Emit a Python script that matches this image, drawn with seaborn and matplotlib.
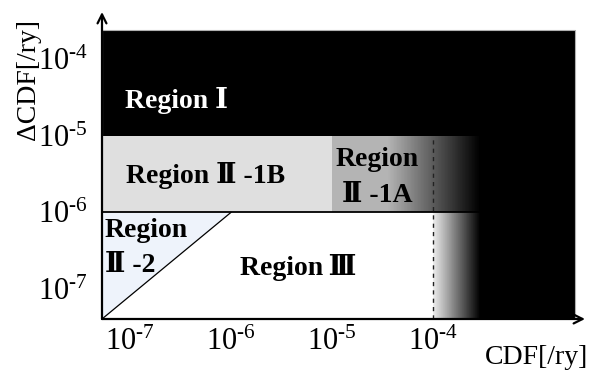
import numpy as np
import matplotlib
matplotlib.use("Agg")
import matplotlib.pyplot as plt
import seaborn as sns
import pandas as pd

# Axis ticks (log scale) and their labels
cdf_ticks = [1e-7, 1e-6, 1e-5, 1e-4]
cdf_tick_labels = [r"$10^{\text{-}7}$", r"$10^{\text{-}6}$", r"$10^{\text{-}5}$", r"$10^{\text{-}4}$"]
dcdf_ticks = [1e-7, 1e-6, 1e-5, 1e-4]
dcdf_tick_labels = [r"$10^{\text{-}7}$", r"$10^{\text{-}6}$", r"$10^{\text{-}5}$", r"$10^{\text{-}4}$"]

# Axis extents
cdf_range = [10 ** -7.28, 10 ** -2.49]
dcdf_range = [10 ** -7.39, 10 ** -3.39]

# Region boundaries
region1_top = 10 ** -3.62
region1_right = 10 ** -2.59
band_lower = 1e-6      # ΔCDF boundary between Region III/II-2 and Region II-1
band_upper = 1e-5      # ΔCDF boundary between Region II-1 and Region I
region2_1a_left = 1e-5  # CDF where Region II-1A begins
cdf_guideline = 1e-4    # dashed CDF reference line
fade_start_upper = 10 ** -4.45
fade_end = 10 ** -3.53
region2_2_corner = 1e-6  # diagonal of Region II-2 ends at (1e-6, 1e-6)

# Region labels: (text, CDF, ΔCDF, color, horizontal alignment)
region_labels = [
    ("Region Ⅰ", 10 ** -6.545, 10 ** -4.636, "white", "center"),
    ("Region Ⅱ -1B", 10 ** -6.25, 10 ** -5.623, "black", "center"),
    ("Region", 10 ** -4.554, 10 ** -5.403, "black", "center"),
    ("Ⅱ -1A", 10 ** -4.554, 10 ** -5.87, "black", "center"),
    ("Region", 10 ** -7.25, 10 ** -6.325, "black", "left"),
    ("Ⅱ -2", 10 ** -7.25, 10 ** -6.779, "black", "left"),
    ("Region\u2009Ⅲ", 10 ** -5.337, 10 ** -6.818, "black", "center"),
]

sns.set_theme(style="white")
plt.rcParams["font.family"] = ["Liberation Serif", "DejaVu Serif", "Noto Sans CJK JP"]
plt.rcParams["mathtext.fontset"] = "custom"
plt.rcParams["mathtext.rm"] = "Liberation Serif"
plt.rcParams["mathtext.it"] = "Liberation Serif:italic"
plt.rcParams["mathtext.bf"] = "Liberation Serif:bold"

fig = plt.figure(figsize=(5.96, 3.74), dpi=100)
ax = fig.add_axes([102 / 596, 55 / 374, 483 / 596, 307 / 374])
ax.set_xscale("log")
ax.set_yscale("log")
ax.set_xlim(cdf_range)
ax.set_ylim(dcdf_range)

x0, y0 = cdf_range[0], dcdf_range[0]

# Region I (black background)
ax.fill_between([x0, region1_right], y0, region1_top, color="black",
                edgecolor="#b0b0b0", linewidth=0.8, zorder=1)

# Region II-1B (light grey band)
ax.fill_between([x0, region2_1a_left], band_lower, band_upper, color="#dfdfdf",
                linewidth=0, zorder=2)
# Region II-1A (mid grey band)
ax.fill_between([region2_1a_left, fade_start_upper], band_lower, band_upper,
                color="#b4b4b4", linewidth=0, zorder=2)
# Region III (white)
ax.fill_between([x0, cdf_guideline], y0, band_lower, color="white",
                linewidth=0, zorder=2)

# Fades towards Region I
n = 120
xe_up = np.logspace(np.log10(fade_start_upper), np.log10(fade_end), n + 1)
ax.pcolormesh(xe_up, [band_lower, band_upper],
              np.linspace(0.705, 0.0, n)[None, :], cmap="gray", vmin=0, vmax=1,
              shading="flat", zorder=2, rasterized=True)
xe_lo = np.logspace(np.log10(cdf_guideline), np.log10(fade_end), n + 1)
ax.pcolormesh(xe_lo, [y0, band_lower],
              np.linspace(0.93, 0.0, n)[None, :], cmap="gray", vmin=0, vmax=1,
              shading="flat", zorder=2, rasterized=True)

# Region II-2 (triangle)
ax.fill([x0, x0, region2_2_corner], [y0, band_lower, band_lower],
        color="#eef3fb", linewidth=0, zorder=3)
diag = pd.DataFrame({"cdf": [x0, region2_2_corner], "dcdf": [y0, band_lower]})
sns.lineplot(data=diag, x="cdf", y="dcdf", color="black", linewidth=0.9,
             ax=ax, zorder=4)

# Boundary at ΔCDF = 1e-6
bound = pd.DataFrame({"cdf": [x0, fade_end], "dcdf": [band_lower, band_lower]})
sns.lineplot(data=bound, x="cdf", y="dcdf", color="black", linewidth=1.3,
             ax=ax, zorder=4)

# Dashed CDF guideline
ax.plot([cdf_guideline, cdf_guideline], [y0, band_upper], color="#222222",
        linewidth=1.0, linestyle=(0, (3, 3)), zorder=4)

for text, x, y, col, ha in region_labels:
    ax.text(x, y, text, color=col, ha=ha, va="baseline", fontsize=20,
            fontweight="bold", zorder=5)

# Axes with arrows
for s in ax.spines.values():
    s.set_visible(False)
ax.annotate("", xy=(1, 0), xytext=(0, 0), xycoords="axes fraction",
            arrowprops=dict(arrowstyle="->", lw=1.6, color="black",
                            shrinkA=0, shrinkB=0, mutation_scale=16), zorder=6)
ax.annotate("", xy=(0, 1), xytext=(0, 0), xycoords="axes fraction",
            arrowprops=dict(arrowstyle="->", lw=1.6, color="black",
                            shrinkA=0, shrinkB=0, mutation_scale=16), zorder=6)

ax.minorticks_off()
ax.set_xticks(cdf_ticks)
ax.set_xticklabels(cdf_tick_labels)
ax.set_yticks(dcdf_ticks)
ax.set_yticklabels(dcdf_tick_labels)
ax.tick_params(axis="x", length=0, pad=6, labelsize=22, colors="black")
ax.tick_params(axis="y", length=0, pad=10, labelsize=22, colors="black")
ax.set_xlabel("")
ax.set_ylabel("")

fig.text(537 / 596, 1 - 358 / 374, "CDF[/ry]", ha="center", va="center",
         fontsize=20, color="black")
fig.text(29 / 596, 1 - 80 / 374, "ΔCDF[/ry]", ha="center", va="center",
         rotation=90, fontsize=20, color="black")

fig.savefig("out.png", dpi=100)
